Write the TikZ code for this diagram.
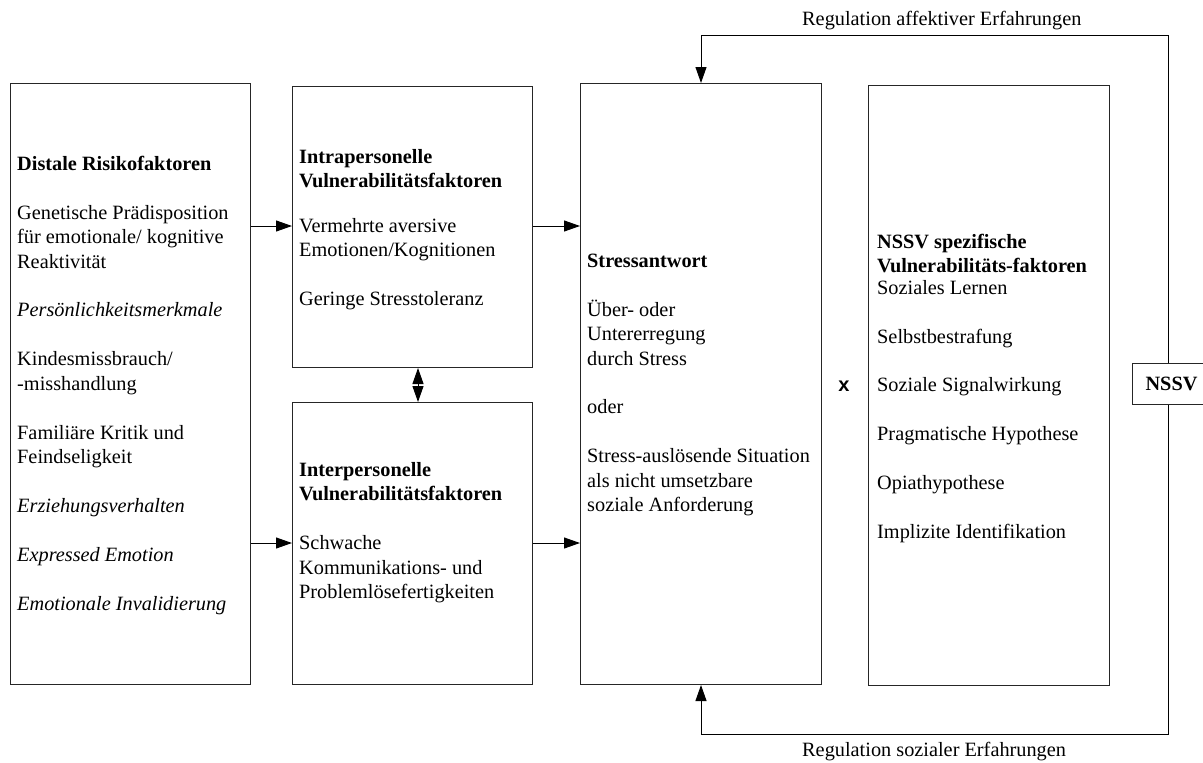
\documentclass[tikz,border=0pt]{standalone}
\usepackage{fontspec}
\setmainfont{Liberation Serif}[Ligatures=NoCommon]
\newfontfamily\xsans{Liberation Sans}
\usetikzlibrary{arrows.meta}
\newcommand{\gp}{\\[24.45pt]}
\newcommand{\fl}{\rule{0pt}{18pt}}
\begin{document}
\begin{tikzpicture}[x=1pt,y=-1pt,
  box/.style={draw=black!85, line width=1pt, rectangle, inner sep=0pt, anchor=north west},
  txt/.style={anchor=north west, inner sep=0pt, align=left, font=\fontsize{20.3}{24.45}\selectfont},
  lbl/.style={anchor=base west, inner sep=0pt, font=\fontsize{20.3}{24.45}\selectfont},
  conn/.style={draw=black, line width=1pt},
  tip/.style={-{Triangle[length=16pt,width=11pt]}}
]
\useasboundingbox (0,0) rectangle (1203,763);

% boxes
\node[box, minimum width=240pt, minimum height=601pt] (distale) at (10,83) {};
\node[box, minimum width=240pt, minimum height=281pt] (intra) at (292,86) {};
\node[box, minimum width=240pt, minimum height=282pt] (inter) at (292,402) {};
\node[box, minimum width=241pt, minimum height=601pt] (stress) at (580,83) {};
\node[box, minimum width=241pt, minimum height=600pt] (spec) at (868,85) {};
\node[box, minimum width=78pt, minimum height=41pt, font=\fontsize{20.3}{24.45}\selectfont\bfseries] (nssv) at (1132,363) {NSSV};

% texts
\node[txt] (tdist) at (17,152) {\fl\textbf{Distale Risikofaktoren}\gp
Genetische Prädisposition\\
für emotionale/ kognitive\\
Reaktivität\gp
\textit{Persönlichkeitsmerkmale}\gp
Kindesmissbrauch/\\
-misshandlung\gp
Familiäre Kritik und\\
Feindseligkeit\gp
\textit{Erziehungsverhalten}\gp
\textit{Expressed Emotion}\gp
\textit{Emotionale Invalidierung}};

\node[txt] (tintra) at (299,145) {\fl\textbf{Intrapersonelle}\\
\textbf{Vulnerabilitätsfaktoren}\\[20pt]
Vermehrte aversive\\
Emotionen/Kognitionen\gp
Geringe Stresstoleranz};

\node[txt] (tinter) at (299,458) {\fl\textbf{Interpersonelle}\\
\textbf{Vulnerabilitätsfaktoren}\gp
Schwache\\
Kommunikations- und\\
Problemlösefertigkeiten};

\node[txt] (tstress) at (587,249) {\fl\textbf{Stressantwort}\gp
Über- oder\\
Untererregung\\
durch Stress\gp
oder\gp
Stress-auslösende Situation\\
als nicht umsetzbare\\
soziale Anforderung};

\node[txt] (tspec) at (877,230) {\fl\textbf{NSSV spezifische}\\
\textbf{Vulnerabilitäts-faktoren}\\[-3pt]
Soziales Lernen\gp
Selbstbestrafung\gp
Soziale Signalwirkung\gp
Pragmatische Hypothese\gp
Opiathypothese\gp
Implizite Identifikation};

\node[inner sep=0pt, font=\xsans\bfseries\fontsize{20}{22}\selectfont] (xmark) at (844,386) {x};

\node[lbl] (ltop) at (802,25) {Regulation affektiver Erfahrungen};
\node[lbl] (lbot) at (802,756) {Regulation sozialer Erfahrungen};

% coordinates
\coordinate (r1) at (0,226);
\coordinate (r2) at (0,543);
\coordinate (cx) at (418,0);
\coordinate (lx) at (1168,0);
\coordinate (ctop) at (701,35);
\coordinate (cbot) at (701,734);

% connectors
\draw[conn,tip] (distale.east |- r1) -- (intra.west |- r1);
\draw[conn,tip] (distale.east |- r2) -- (inter.west |- r2);
\draw[conn,tip] (intra.east |- r1) -- (stress.west |- r1);
\draw[conn,tip] (inter.east |- r2) -- (stress.west |- r2);
\draw[conn,{Triangle[length=16pt,width=11pt]}-{Triangle[length=16pt,width=11pt]}] (intra.south -| cx) -- (inter.north -| cx);
\draw[conn,tip] (nssv.north -| lx) |- (ctop) -- (stress.north -| ctop);
\draw[conn,tip] (nssv.south -| lx) |- (cbot) -- (stress.south -| cbot);
\end{tikzpicture}
\end{document}
